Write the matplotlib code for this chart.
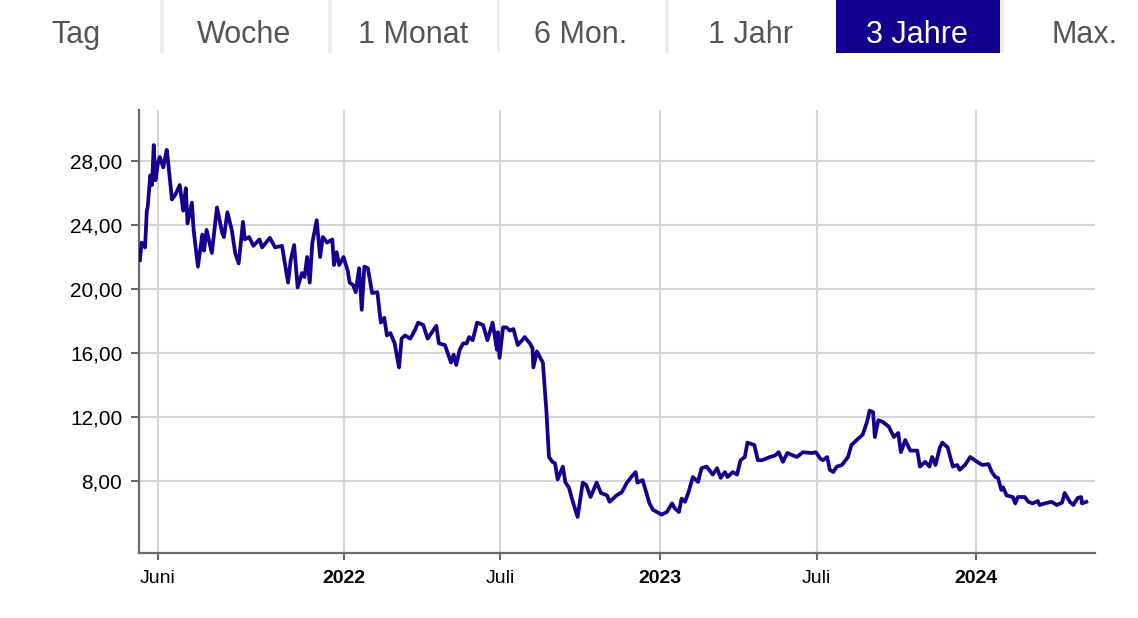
import matplotlib
matplotlib.use("Agg")
import matplotlib.pyplot as plt
import matplotlib.dates as mdates
import pandas as pd
from matplotlib.patches import Rectangle

# ---------------- data ----------------
dates = [
    "2021-05-11", "2021-05-13", "2021-05-17", "2021-05-19", "2021-05-20", "2021-05-23", "2021-05-25",
    "2021-05-27", "2021-05-29", "2021-06-01", "2021-06-03", "2021-06-07", "2021-06-11", "2021-06-12",
    "2021-06-17", "2021-06-21", "2021-06-26", "2021-06-30", "2021-07-03", "2021-07-05", "2021-07-10",
    "2021-07-12", "2021-07-17", "2021-07-22", "2021-07-24", "2021-07-27", "2021-08-02", "2021-08-08",
    "2021-08-14", "2021-08-16", "2021-08-20", "2021-08-25", "2021-08-29", "2021-09-02", "2021-09-07",
    "2021-09-09", "2021-09-14", "2021-09-19", "2021-09-26", "2021-09-29", "2021-10-08", "2021-10-14",
    "2021-10-22", "2021-10-29", "2021-11-01", "2021-11-05", "2021-11-09", "2021-11-14", "2021-11-17",
    "2021-11-20", "2021-11-23", "2021-11-26", "2021-12-01", "2021-12-05", "2021-12-08", "2021-12-13",
    "2021-12-19", "2021-12-21", "2021-12-24", "2021-12-27", "2022-01-01", "2022-01-06", "2022-01-08",
    "2022-01-12", "2022-01-15", "2022-01-19", "2022-01-22", "2022-01-25", "2022-01-29", "2022-02-03",
    "2022-02-09", "2022-02-13", "2022-02-17", "2022-02-20", "2022-02-24", "2022-03-01", "2022-03-06",
    "2022-03-09", "2022-03-13", "2022-03-19", "2022-03-25", "2022-03-28", "2022-04-03", "2022-04-08",
    "2022-04-13", "2022-04-18", "2022-04-21", "2022-04-28", "2022-05-05", "2022-05-08", "2022-05-11",
    "2022-05-15", "2022-05-19", "2022-05-23", "2022-05-26", "2022-05-30", "2022-06-04", "2022-06-11",
    "2022-06-16", "2022-06-22", "2022-06-27", "2022-06-28", "2022-06-30", "2022-07-04", "2022-07-08",
    "2022-07-12", "2022-07-16", "2022-07-21", "2022-07-26", "2022-07-29", "2022-08-04", "2022-08-07",
    "2022-08-08", "2022-08-12", "2022-08-19", "2022-08-23", "2022-08-26", "2022-08-30", "2022-09-02",
    "2022-09-05", "2022-09-11", "2022-09-14", "2022-09-18", "2022-09-22", "2022-09-28", "2022-10-04",
    "2022-10-08", "2022-10-13", "2022-10-20", "2022-10-25", "2022-11-01", "2022-11-04", "2022-11-12",
    "2022-11-18", "2022-11-24", "2022-11-29", "2022-12-04", "2022-12-06", "2022-12-12", "2022-12-20",
    "2022-12-24", "2023-01-03", "2023-01-09", "2023-01-15", "2023-01-18", "2023-01-23", "2023-01-26",
    "2023-01-30", "2023-02-03", "2023-02-08", "2023-02-14", "2023-02-18", "2023-02-24", "2023-03-03",
    "2023-03-08", "2023-03-12", "2023-03-17", "2023-03-20", "2023-03-26", "2023-03-31", "2023-04-04",
    "2023-04-09", "2023-04-12", "2023-04-20", "2023-04-24", "2023-04-29", "2023-05-08", "2023-05-14",
    "2023-05-18", "2023-05-23", "2023-05-28", "2023-06-08", "2023-06-15", "2023-06-25", "2023-06-30",
    "2023-07-05", "2023-07-08", "2023-07-13", "2023-07-16", "2023-07-20", "2023-07-24", "2023-07-30",
    "2023-08-06", "2023-08-10", "2023-08-16", "2023-08-23", "2023-08-28", "2023-08-31", "2023-09-04",
    "2023-09-06", "2023-09-10", "2023-09-15", "2023-09-22", "2023-09-28", "2023-10-03", "2023-10-06",
    "2023-10-11", "2023-10-17", "2023-10-25", "2023-10-28", "2023-11-03", "2023-11-08", "2023-11-11",
    "2023-11-15", "2023-11-20", "2023-11-23", "2023-11-29", "2023-12-05", "2023-12-10", "2023-12-13",
    "2023-12-19", "2023-12-25", "2024-01-02", "2024-01-08", "2024-01-15", "2024-01-19", "2024-01-23",
    "2024-01-26", "2024-01-30", "2024-02-01", "2024-02-05", "2024-02-12", "2024-02-15", "2024-02-18",
    "2024-02-26", "2024-03-01", "2024-03-06", "2024-03-12", "2024-03-14", "2024-03-20", "2024-03-28",
    "2024-04-03", "2024-04-09", "2024-04-12", "2024-04-18", "2024-04-22", "2024-04-27", "2024-05-01",
    "2024-05-02", "2024-05-07",
]
prices = [
    21.8, 22.9, 22.6, 24.9, 25.1, 27.1, 26.5,
    29.0, 26.8, 27.9, 28.25, 27.6, 28.7, 28.25,
    25.6, 25.9, 26.5, 24.9, 26.3, 24.1, 25.4,
    23.7, 21.4, 23.4, 22.4, 23.7, 22.25, 25.1,
    23.5, 23.25, 24.8, 23.7, 22.25, 21.6, 24.2,
    23.1, 23.25, 22.7, 23.1, 22.6, 23.2, 22.6,
    22.7, 20.4, 21.8, 22.75, 20.1, 21.0, 20.75,
    22.0, 20.4, 22.9, 24.3, 22.0, 23.25, 22.9,
    23.1, 21.5, 22.3, 21.5, 22.0, 21.1, 20.4,
    20.25, 19.8, 21.3, 18.7, 21.4, 21.3, 19.75,
    19.8, 17.9, 18.2, 17.1, 17.25, 16.6, 15.1,
    16.9, 17.1, 16.9, 17.5, 17.9, 17.75, 16.9,
    17.3, 17.7, 16.6, 16.5, 15.4, 15.9, 15.25,
    16.2, 16.6, 16.6, 17.0, 16.8, 17.9, 17.75,
    16.8, 17.9, 16.2, 17.3, 15.7, 17.6, 17.6,
    17.4, 17.5, 16.5, 16.8, 17.0, 16.6, 16.3,
    15.1, 16.1, 15.4, 12.4, 9.5, 9.2, 9.1,
    8.1, 8.9, 7.9, 7.6, 6.8, 5.75, 7.9,
    7.75, 7.0, 7.9, 7.25, 7.1, 6.7, 7.1,
    7.3, 7.9, 8.25, 8.56, 7.9, 8.06, 6.6,
    6.2, 5.9, 6.06, 6.6, 6.3, 6.06, 6.9,
    6.7, 7.3, 8.25, 7.94, 8.8, 8.9, 8.4,
    8.8, 8.2, 8.56, 8.25, 8.56, 8.4, 9.3,
    9.5, 10.4, 10.25, 9.3, 9.3, 9.5, 9.6,
    9.8, 9.2, 9.75, 9.5, 9.8, 9.75, 9.8,
    9.4, 9.3, 9.5, 8.7, 8.56, 8.9, 9.0,
    9.5, 10.25, 10.56, 10.9, 11.7, 12.4, 12.3,
    10.75, 11.8, 11.7, 11.4, 10.75, 11.0, 9.8,
    10.56, 9.9, 9.9, 8.9, 9.2, 8.9, 9.5,
    9.0, 10.1, 10.4, 10.1, 8.9, 9.0, 8.7,
    9.0, 9.5, 9.2, 9.0, 9.06, 8.56, 8.25,
    8.2, 7.44, 7.6, 7.1, 7.0, 6.6, 7.0,
    7.0, 6.7, 6.6, 6.75, 6.5, 6.6, 6.7,
    6.5, 6.65, 7.25, 6.7, 6.5, 6.94, 7.0,
    6.6, 6.7,
]
ytick_values = [8, 12, 16, 20, 24, 28]
ytick_labels = ["8,00", "12,00", "16,00", "20,00", "24,00", "28,00"]
xtick_dates = ["2021-06-01", "2022-01-01", "2022-07-01", "2023-01-01", "2023-07-01", "2024-01-01"]
xtick_labels = ["Juni", "2022", "Juli", "2023", "Juli", "2024"]
xtick_bold = [False, True, False, True, False, True]
tabs = ["Tag", "Woche", "1 Monat", "6 Mon.", "1 Jahr", "3 Jahre", "Max."]
selected_tab = "3 Jahre"

# ---------------- style ----------------
LINE = "#13008f"
GRID = "#d6d6d6"
SPINE = "#6b6b6b"
W, H = 1138, 618

plt.rcParams["font.family"] = ["Liberation Sans", "DejaVu Sans"]

fig = plt.figure(figsize=(W / 100, H / 100), dpi=100)
fig.patch.set_facecolor("white")

# ---------------- tab bar ----------------
tab_centers = [76, 244, 413, 581, 750, 917, 1085]
tab_bounds = [(0, 160), (164, 328), (332, 497), (500, 665), (669, 833), (836, 1000), (1004, 1138)]
dividers = [162, 330, 498.5, 667]
for dx in dividers + [1002]:
    fig.add_artist(Rectangle((dx / W - 2 / W, 1 - 53 / H), 4 / W, 53 / H,
                             transform=fig.transFigure, color="#eeeeee", lw=0, zorder=1))
for name, cx, (x0, x1) in zip(tabs, tab_centers, tab_bounds):
    sel = name == selected_tab
    if sel:
        fig.add_artist(Rectangle((x0 / W, 1 - 53 / H), (x1 - x0) / W, 53 / H,
                                 transform=fig.transFigure, color="#12008f", lw=0, zorder=2))
    fig.text(cx / W, 1 - 43 / H, name, ha="center", va="baseline", fontsize=22,
             color="white" if sel else "#555555", zorder=3)

# ---------------- chart ----------------
ax = fig.add_axes([139 / W, 1 - 553 / H, (1095 - 139) / W, (553 - 110) / H])
x = pd.to_datetime(dates)
ax.plot(x, prices, color=LINE, lw=2.7, solid_joinstyle="round", zorder=3)

ax.set_ylim(3.5, 31.19)
ax.set_xlim(pd.Timestamp("2021-05-10"), pd.Timestamp("2024-05-17"))

ax.set_yticks(ytick_values)
ax.set_yticklabels(ytick_labels)
xt = pd.to_datetime(xtick_dates)
ax.set_xticks(xt)
ax.set_xticklabels(xtick_labels)
for lab, b in zip(ax.get_xticklabels(), xtick_bold):
    lab.set_fontweight("bold" if b else "normal")
    lab.set_fontsize(14)

ax.tick_params(axis="y", length=6, width=1.5, color=SPINE, labelsize=15, pad=6, labelcolor="black")
ax.tick_params(axis="x", length=5, width=1.5, color=SPINE, pad=7, labelcolor="black")

ax.grid(True, color=GRID, lw=1.5, zorder=0)
ax.set_axisbelow(True)
for s in ["top", "right"]:
    ax.spines[s].set_visible(False)
for s in ["left", "bottom"]:
    ax.spines[s].set_color(SPINE)
    ax.spines[s].set_linewidth(1.6)

fig.savefig("out.png", dpi=100, facecolor="white")
